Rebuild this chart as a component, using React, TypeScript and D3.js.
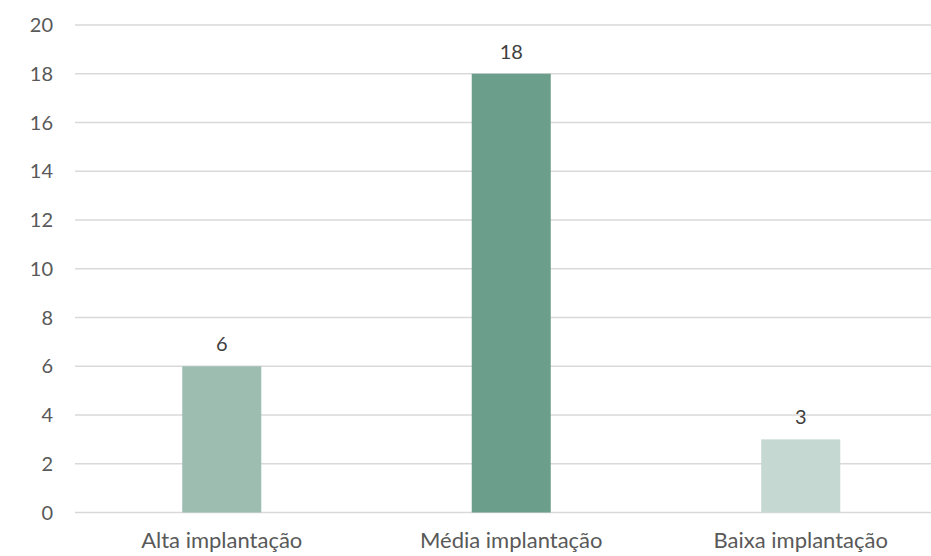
import React from "react";
import * as d3 from "d3";

const categories = ["Alta implantação", "Média implantação", "Baixa implantação"];
const values = [6, 18, 3];
const colors = ["#9dbdb1", "#6b9e8b", "#c5d9d2"];
const yTicks = [0, 2, 4, 6, 8, 10, 12, 14, 16, 18, 20];

export default function App() {
  const W = 931, H = 556;
  const x = d3.scaleBand<string>().domain(categories).range([77, 945.5]).paddingInner(0.727).paddingOuter(0.3635);
  const y = d3.scaleLinear().domain([0, 20]).range([512.5, 25]);
  const font = "Lato, 'Open Sans', sans-serif";
  return (
    <svg width={W} height={H} style={{ position: "absolute", left: 0, top: 0, background: "#fff" }}>
      {yTicks.map((t) => (
        <g key={t}>
          <line x1={75} x2={W} y1={y(t)} y2={y(t)} stroke="#d9d9d9" strokeWidth={1.5} />
          <text x={53} y={y(t)} dy="0.36em" textAnchor="end" fontFamily={font} fontSize={20} fill="#595959">{t}</text>
        </g>
      ))}
      {categories.map((c, i) => (
        <g key={c}>
          <rect x={x(c)} y={y(values[i])} width={x.bandwidth()} height={y(0) - y(values[i])} fill={colors[i]} />
          <text x={(x(c) as number) + x.bandwidth() / 2} y={y(values[i]) - 15} textAnchor="middle" fontFamily={font} fontSize={20} fill="#404040">{values[i]}</text>
          <text x={(x(c) as number) + x.bandwidth() / 2} y={548} textAnchor="middle" fontFamily={font} fontSize={22} fill="#595959">{c}</text>
        </g>
      ))}
    </svg>
  );
}
